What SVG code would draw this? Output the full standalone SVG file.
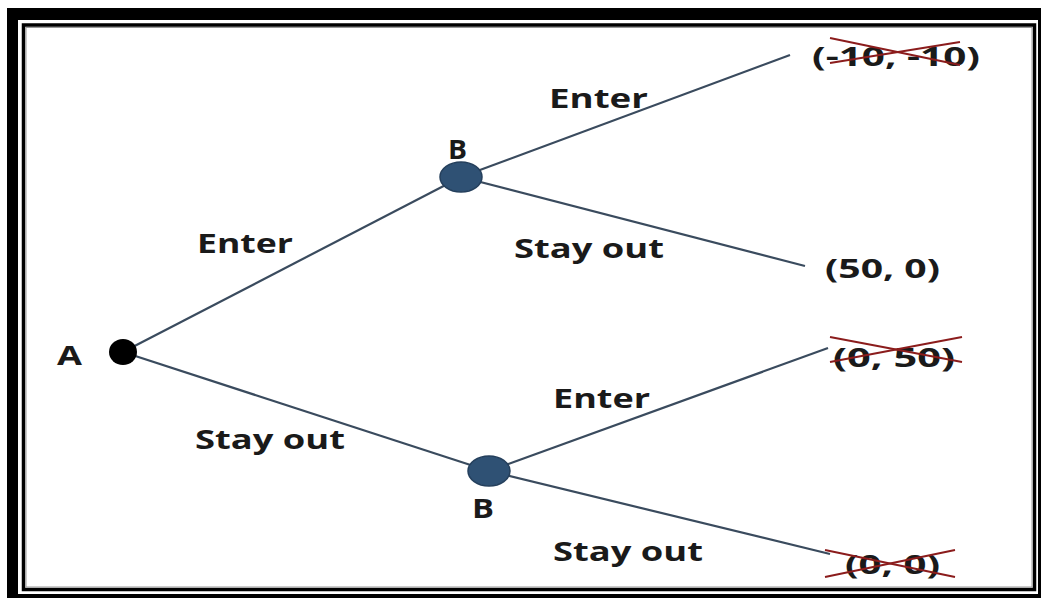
<svg xmlns="http://www.w3.org/2000/svg" width="1043" height="599" viewBox="0 0 1043 599">
<style>
.t{font-family:"Open Sans","Liberation Sans",Arial,sans-serif;font-weight:bold;font-size:27px;fill:#1a1a1a}
.e{stroke:#3a4b5e;stroke-width:2.2;fill:none}
.x{stroke:#8b1c1c;stroke-width:2;fill:none}
.bn{fill:#2f5174;stroke:#243f5c;stroke-width:1.5}
</style>
<rect width="1043" height="599" fill="#fff"/>
<g id="frame">
<path d="M7 8H1041V598H7Z M18 20V594H1038V20Z" fill="#000" fill-rule="evenodd"/>
<rect x="23.5" y="25" width="1011" height="564.5" fill="none" stroke="#000" stroke-width="3.5"/>
<rect x="26" y="27.5" width="1006" height="559.5" fill="none" stroke="#999" stroke-width="1"/>
</g>
<g id="connectors">
<line class="e" x1="123" y1="352" x2="461" y2="177"/>
<line class="e" x1="123" y1="352" x2="489" y2="471"/>
<line class="e" x1="461" y1="177" x2="790" y2="55"/>
<line class="e" x1="461" y1="177" x2="805" y2="266"/>
<line class="e" x1="489" y1="471" x2="828" y2="348"/>
<line class="e" x1="489" y1="471" x2="830" y2="554"/>
<text class="t" x="549" y="108" textLength="99" lengthAdjust="spacingAndGlyphs">Enter</text>
<text class="t" x="514" y="258" textLength="150" lengthAdjust="spacingAndGlyphs">Stay out</text>
<text class="t" x="197" y="253" textLength="96" lengthAdjust="spacingAndGlyphs">Enter</text>
<text class="t" x="195" y="449" textLength="150" lengthAdjust="spacingAndGlyphs">Stay out</text>
<text class="t" x="553" y="408" textLength="97" lengthAdjust="spacingAndGlyphs">Enter</text>
<text class="t" x="553" y="561" textLength="150" lengthAdjust="spacingAndGlyphs">Stay out</text>
</g>
<g id="nodeA">
<ellipse cx="123" cy="352" rx="14" ry="13" fill="#000"/>
<text class="t" x="57" y="365" textLength="25" lengthAdjust="spacingAndGlyphs">A</text>
</g>
<g id="nodeB1">
<ellipse class="bn" cx="461" cy="177" rx="21" ry="15"/>
<text class="t" x="448" y="159" textLength="19" lengthAdjust="spacingAndGlyphs">B</text>
</g>
<g id="nodeB2">
<ellipse class="bn" cx="489" cy="471" rx="21" ry="15"/>
<text class="t" x="472" y="518" textLength="22" lengthAdjust="spacingAndGlyphs">B</text>
</g>
<g id="payoff1">
<text class="t" x="812" y="66" textLength="168" lengthAdjust="spacingAndGlyphs">(-10, -10)</text>
<line class="x" x1="830" y1="38" x2="960" y2="65"/>
<line class="x" x1="830" y1="63" x2="960" y2="42"/>
</g>
<g id="payoff2">
<text class="t" x="825" y="278" textLength="115" lengthAdjust="spacingAndGlyphs">(50, 0)</text>
</g>
<g id="payoff3">
<text class="t" x="833" y="367" textLength="122" lengthAdjust="spacingAndGlyphs">(0, 50)</text>
<line class="x" x1="830" y1="337" x2="962" y2="362"/>
<line class="x" x1="830" y1="362" x2="962" y2="337"/>
</g>
<g id="payoff4">
<text class="t" x="845" y="574" textLength="95" lengthAdjust="spacingAndGlyphs">(0, 0)</text>
<line class="x" x1="825" y1="550" x2="955" y2="577"/>
<line class="x" x1="825" y1="577" x2="955" y2="550"/>
</g>
</svg>
